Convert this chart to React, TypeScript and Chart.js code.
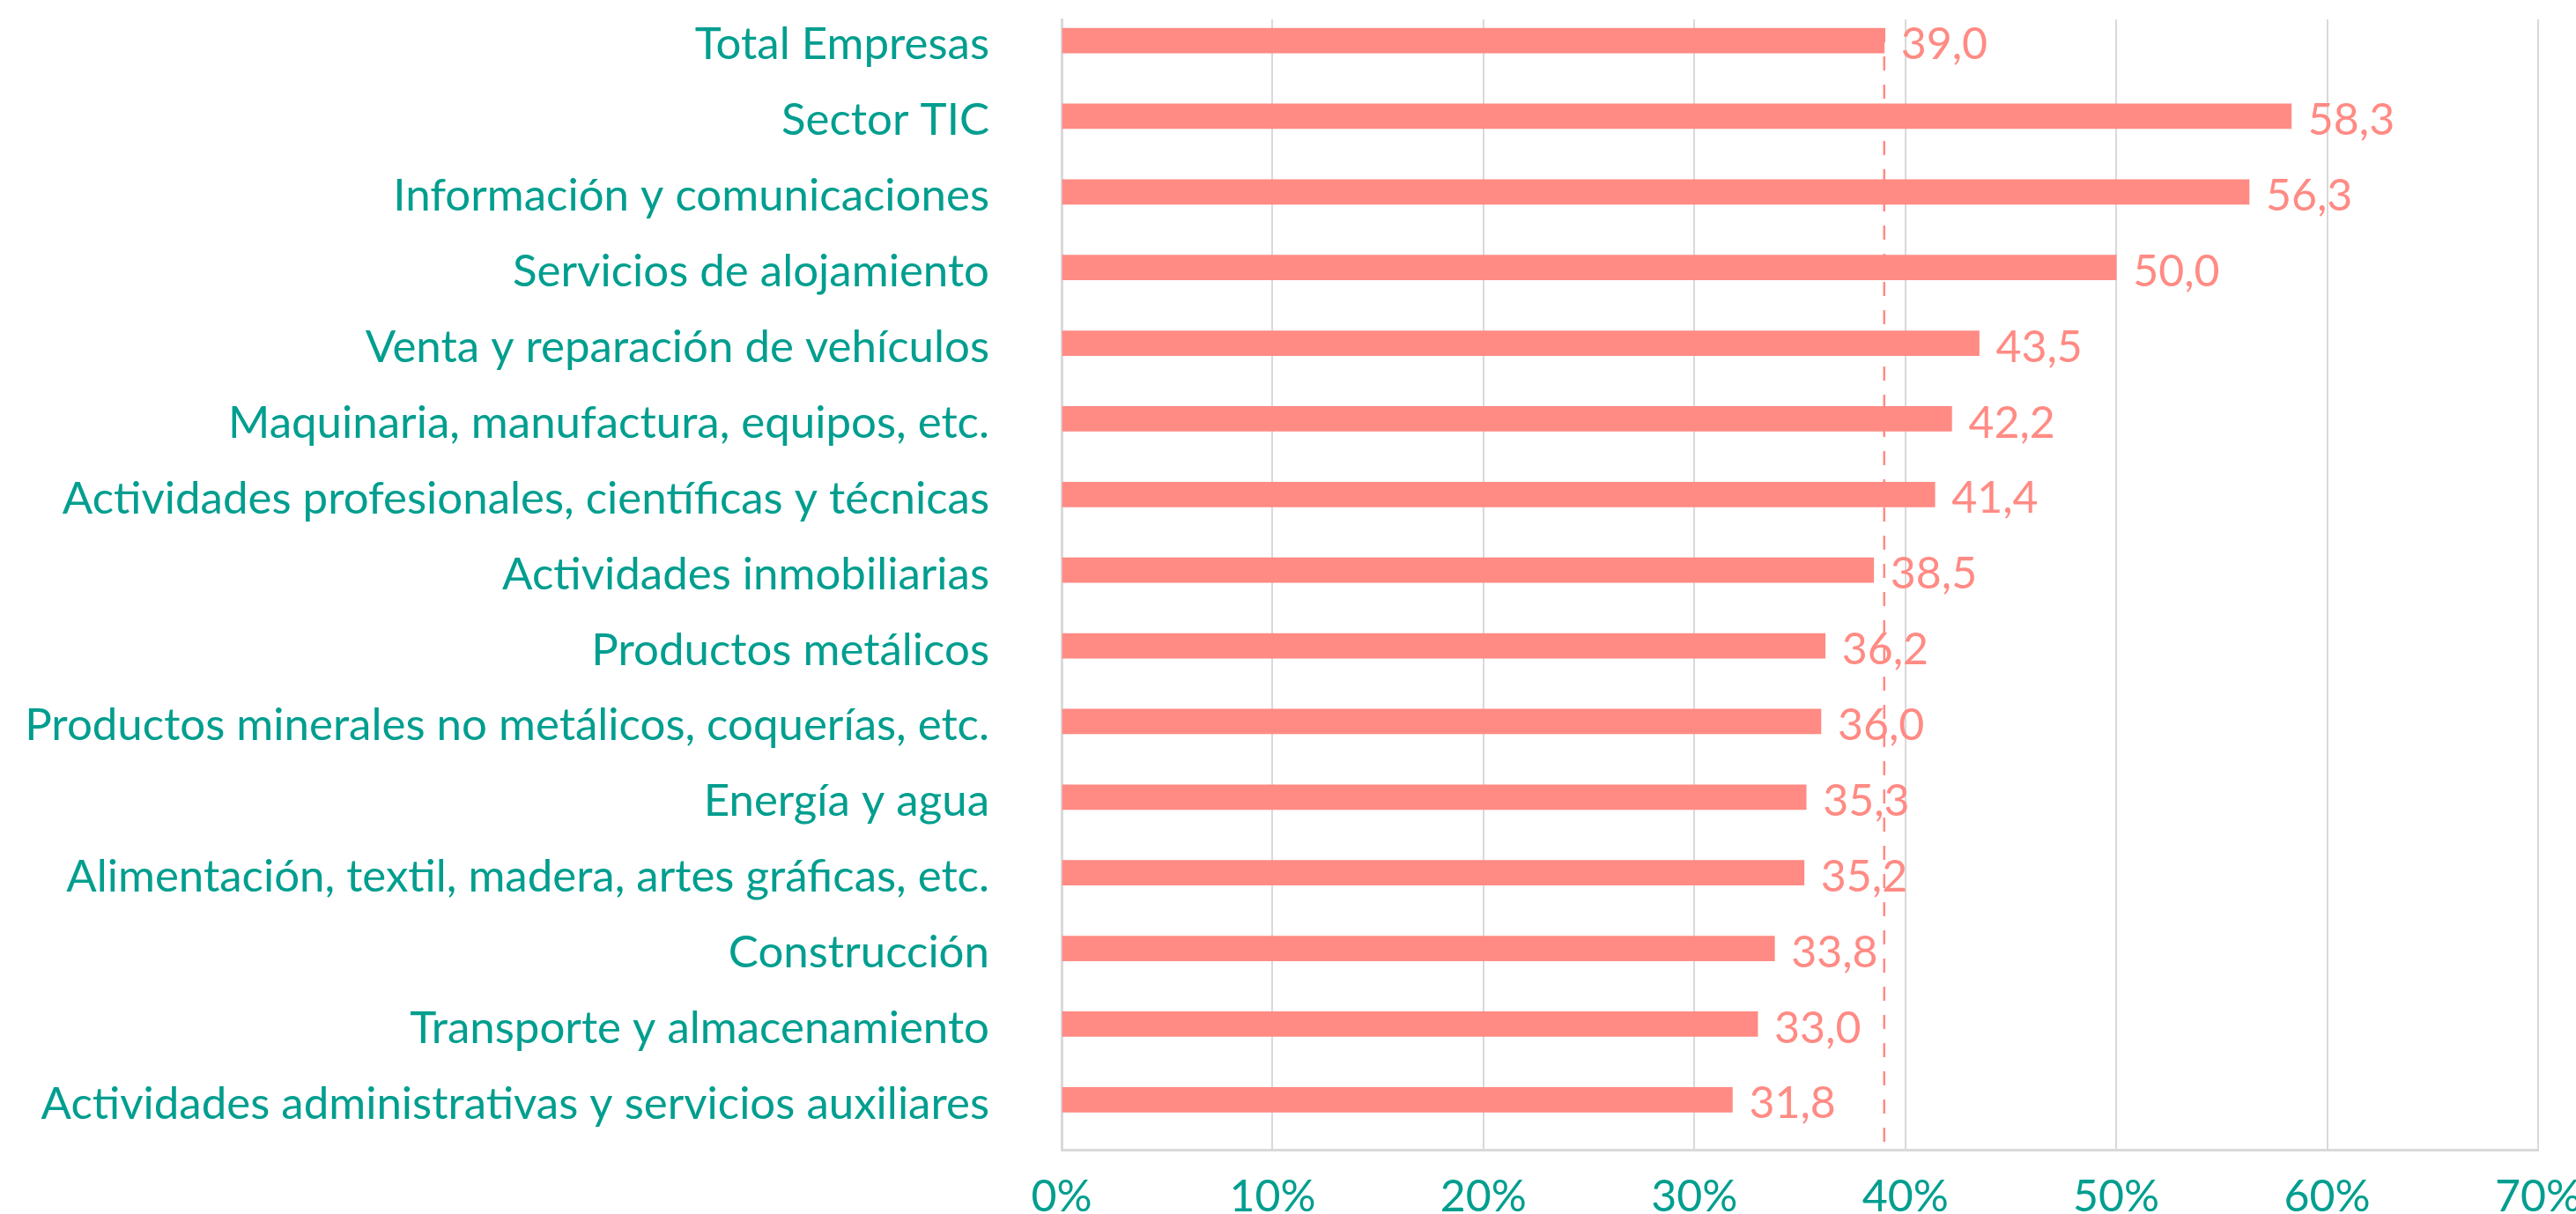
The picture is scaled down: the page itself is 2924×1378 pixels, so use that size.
import React, { useEffect, useRef } from "react";
import { Chart, registerables } from "chart.js";

Chart.register(...registerables);

const categories = [
  "Total Empresas",
  "Sector TIC",
  "Información y comunicaciones",
  "Servicios de alojamiento",
  "Venta y reparación de vehículos",
  "Maquinaria, manufactura, equipos, etc.",
  "Actividades profesionales, científicas y técnicas",
  "Actividades inmobiliarias",
  "Productos metálicos",
  "Productos minerales no metálicos, coquerías, etc.",
  "Energía y agua",
  "Alimentación, textil, madera, artes gráficas, etc.",
  "Construcción",
  "Transporte y almacenamiento",
  "Actividades administrativas y servicios auxiliares",
];

const values = [39.0, 58.3, 56.3, 50.0, 43.5, 42.2, 41.4, 38.5, 36.2, 36.0, 35.3, 35.2, 33.8, 33.0, 31.8];

const referenceValue = 39.0;
const xMin = 0;
const xMax = 70;
const xStep = 10;

const TEAL = "#009E8F";
const SALMON = "#FF8B84";
const GRID = "#D9D9D9";
const FONT = "Lato";

export default function App() {
  const canvasRef = useRef<HTMLCanvasElement | null>(null);

  useEffect(() => {
    const canvas = canvasRef.current;
    if (!canvas) return;

    const refLine = {
      id: "refLine",
      beforeDatasetsDraw(chart: any) {
        const { ctx, chartArea } = chart;
        const x = chart.scales.x.getPixelForValue(referenceValue);
        const meta = chart.getDatasetMeta(0);
        const first = meta.data[0];
        const yTop = first.y - 14;
        ctx.save();
        ctx.strokeStyle = SALMON;
        ctx.lineWidth = 2.5;
        ctx.setLineDash([16, 16]);
        ctx.beginPath();
        ctx.moveTo(x, yTop);
        ctx.lineTo(x, chartArea.bottom);
        ctx.stroke();
        ctx.restore();
      },
    };

    const dataLabels = {
      id: "dataLabels",
      afterDatasetsDraw(chart: any) {
        const { ctx } = chart;
        const meta = chart.getDatasetMeta(0);
        ctx.save();
        ctx.fillStyle = SALMON;
        ctx.font = `50px ${FONT}`;
        ctx.textAlign = "left";
        ctx.textBaseline = "middle";
        meta.data.forEach((bar: any, i: number) => {
          const txt = values[i].toFixed(1).replace(".", ",");
          ctx.fillText(txt, bar.x + 19, bar.y + 5);
        });
        ctx.restore();
      },
    };

    const zeroPad = (scale: any) => {
      scale.paddingTop = 0;
      scale.paddingBottom = 0;
      scale.paddingLeft = 0;
      scale.paddingRight = 0;
    };

    const chart = new Chart(canvas, {
      type: "bar",
      data: {
        datasets: [
          {
            data: values.map((v, i) => ({ x: v, y: i })),
            backgroundColor: SALMON,
            borderWidth: 0,
            barThickness: 28,
          } as any,
        ],
      },
      options: {
        indexAxis: "y",
        responsive: false,
        animation: false,
        devicePixelRatio: 1,
        layout: { padding: { left: 0, right: 43, top: 22, bottom: 0 } },
        plugins: {
          legend: { display: false },
          tooltip: { enabled: false },
        },
        scales: {
          x: {
            type: "linear",
            position: "bottom",
            min: xMin,
            max: xMax,
            offset: false,
            ticks: {
              stepSize: xStep,
              color: TEAL,
              font: { family: FONT, size: 50 },
              padding: 24,
              callback: (v: any) => `${v}%`,
            },
            grid: { color: GRID, lineWidth: 2, drawTicks: false },
            border: { display: true, color: GRID, width: 3 },
            afterFit: (scale: any) => {
              scale.height = 73;
              zeroPad(scale);
            },
          },
          y: {
            type: "linear",
            reverse: true,
            min: -0.28,
            max: 14.66,
            offset: false,
            afterBuildTicks: (scale: any) => {
              scale.ticks = categories.map((_, i) => ({ value: i }));
            },
            ticks: {
              color: TEAL,
              font: { family: FONT, size: 51 },
              padding: 82,
              labelOffset: 5,
              autoSkip: false,
              callback: (v: any) => categories[v as number] ?? "",
            },
            grid: { display: false, drawTicks: false, offset: false },
            border: { display: true, color: GRID, width: 3 },
            afterFit: (scale: any) => {
              scale.width = 1205;
              zeroPad(scale);
            },
          },
        },
      },
      plugins: [refLine, dataLabels],
    } as any);

    return () => chart.destroy();
  }, []);

  return (
    <div style={{ position: "fixed", left: 0, top: 0, width: 2924, height: 1378, background: "#fff" }}>
      <canvas ref={canvasRef} width={2924} height={1378} />
    </div>
  );
}
